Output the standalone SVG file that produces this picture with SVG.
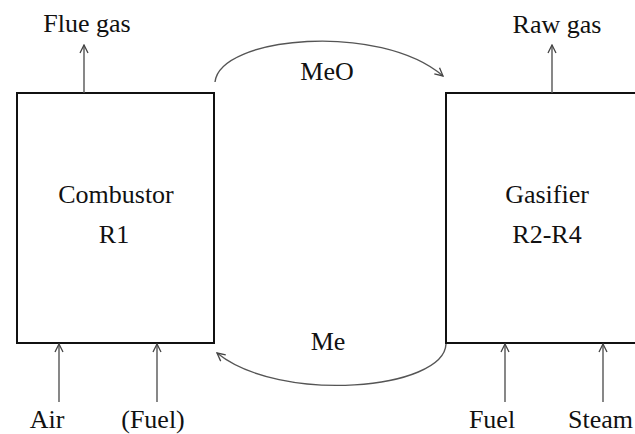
<svg xmlns="http://www.w3.org/2000/svg" width="635" height="434" viewBox="0 0 635 434">
<style>
.box{fill:none;stroke:#111;stroke-width:2}
.ln{fill:none;stroke:#555;stroke-width:1.4}
.t{font-family:'Liberation Serif','Times New Roman','DejaVu Serif',serif;font-size:26px;fill:#111}
.c{text-anchor:middle}
</style>
<defs>
<marker id="ah" viewBox="0 0 10 10" refX="9" refY="5" markerWidth="10" markerHeight="10" markerUnits="userSpaceOnUse" orient="auto">
<path d="M1,1 L9,5 L1,9" fill="none" stroke="#444" stroke-width="1.3"/>
</marker>
</defs>
<rect width="635" height="434" fill="#fff"/>
<g id="combustor">
<rect class="box" x="17" y="93" width="197" height="250"/>
<text class="t c" x="116" y="203" font-family="Liberation Serif, serif">Combustor</text>
<text class="t c" x="114" y="243" font-family="Liberation Serif, serif">R1</text>
</g>
<g id="gasifier">
<rect class="box" x="446" y="93" width="200" height="250"/>
<text class="t c" x="547" y="203" font-family="Liberation Serif, serif">Gasifier</text>
<text class="t c" x="547" y="243" font-family="Liberation Serif, serif">R2-R4</text>
</g>
<g id="connectors">
<line class="ln" x1="84" y1="93" x2="84" y2="45" marker-end="url(#ah)"/>
<line class="ln" x1="552" y1="93" x2="552" y2="45" marker-end="url(#ah)"/>
<line class="ln" x1="59" y1="402" x2="59" y2="344" marker-end="url(#ah)"/>
<line class="ln" x1="157" y1="402" x2="157" y2="344" marker-end="url(#ah)"/>
<line class="ln" x1="505" y1="402" x2="505" y2="344" marker-end="url(#ah)"/>
<line class="ln" x1="603" y1="402" x2="603" y2="344" marker-end="url(#ah)"/>
<path class="ln" d="M215,82 C220,36 380,22 443,76" marker-end="url(#ah)"/>
<path class="ln" d="M446,344 C444,390 280,404 217,353" marker-end="url(#ah)"/>
</g>
<g id="labels">
<text class="t c" x="87" y="32" font-family="Liberation Serif, serif">Flue gas</text>
<text class="t c" x="557" y="33" font-family="Liberation Serif, serif">Raw gas</text>
<text class="t c" x="327" y="80" font-family="Liberation Serif, serif">MeO</text>
<text class="t c" x="328" y="350" font-family="Liberation Serif, serif">Me</text>
<text class="t c" x="47" y="428" font-family="Liberation Serif, serif">Air</text>
<text class="t c" x="153" y="428" font-family="Liberation Serif, serif">(Fuel)</text>
<text class="t c" x="492" y="428" font-family="Liberation Serif, serif">Fuel</text>
<text class="t" x="568" y="428" font-family="Liberation Serif, serif">Steam</text>
</g>
</svg>
